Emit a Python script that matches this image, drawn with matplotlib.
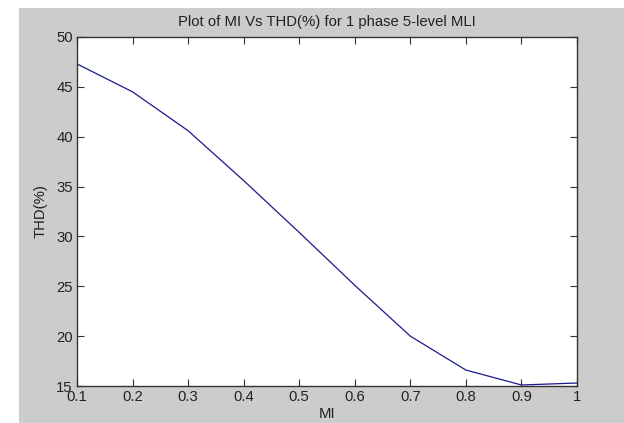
import matplotlib
matplotlib.use("Agg")
import matplotlib.pyplot as plt
from matplotlib.patches import Rectangle

mi = [0.1, 0.2, 0.3, 0.4, 0.5, 0.6, 0.7, 0.8, 0.9, 1.0]
thd = [47.3, 44.5, 40.6, 35.6, 30.4, 25.1, 20.0, 16.6, 15.1, 15.3]
xticks = [0.1, 0.2, 0.3, 0.4, 0.5, 0.6, 0.7, 0.8, 0.9, 1.0]
xticklabels = ["0.1", "0.2", "0.3", "0.4", "0.5", "0.6", "0.7", "0.8", "0.9", "1"]
yticks = [15, 20, 25, 30, 35, 40, 45, 50]

plt.rcParams['font.family'] = ['Liberation Sans', 'DejaVu Sans']

W, H = 624, 423
fig = plt.figure(figsize=(W / 100, H / 100), dpi=100, facecolor='white')
bg = Rectangle((19 / W, 0), 1 - 19 / W, (H - 8) / H,
               transform=fig.transFigure, facecolor='#cccccc',
               edgecolor='none', zorder=-10)
fig.add_artist(bg)

ax = fig.add_axes([77 / W, 37 / H, 500 / W, 349 / H])
ax.set_zorder(1)
ax.set_facecolor('white')
ax.plot(mi, thd, color='#1a1a8c', linewidth=0.9)
ax.set_xlim(0.1, 1.0)
ax.set_ylim(15, 50)
ax.set_xticks(xticks)
ax.set_xticklabels(xticklabels)
ax.set_yticks(yticks)
fs = 10.7
ax.tick_params(direction='in', top=True, right=True, length=5, width=0.8,
               labelsize=fs, colors='#333333', labelcolor='#222222', pad=3)
ax.tick_params(axis='x', pad=3)
for s in ax.spines.values():
    s.set_color('#333333')
    s.set_linewidth(1.0)
ax.set_title('Plot of MI Vs THD(%) for 1 phase 5-level MLI', fontsize=fs,
             color='#222222', pad=8)
ax.set_xlabel('MI', fontsize=fs, color='#222222', labelpad=2)
ax.set_ylabel('THD(%)', fontsize=fs, color='#222222', labelpad=6)

fig.savefig('out.png', dpi=100, facecolor=fig.get_facecolor())
